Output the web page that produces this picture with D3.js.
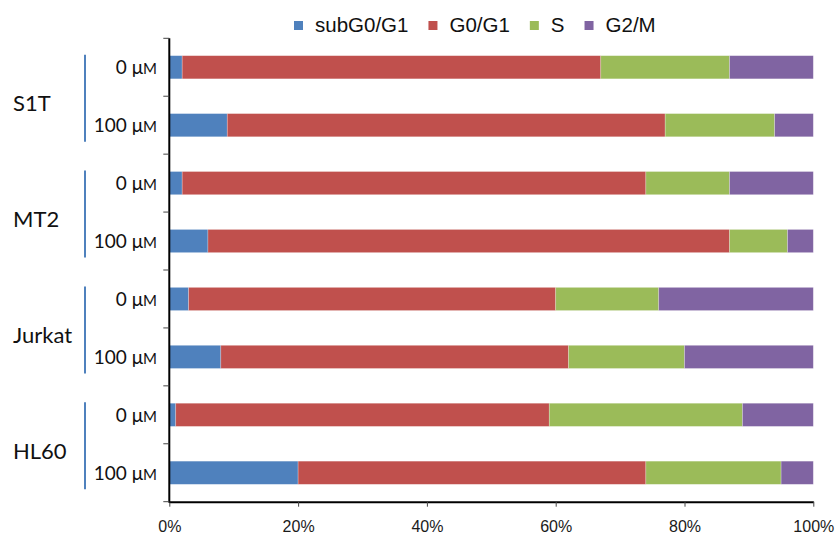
<!DOCTYPE html>
<html>
<head>
<meta charset="utf-8">
<script src="https://cdn.jsdelivr.net/npm/d3@7"></script>
<style>
  body { margin: 0; background: #fff; }
  svg { display: block; }
</style>
</head>
<body>
<script>
// cell lines, doses and the four cell-cycle phases
const groups = ["S1T", "MT2", "Jurkat", "HL60"]
const doses = ["0", "100"]
const phases = ["subG0/G1", "G0/G1", "S", "G2/M"]
const colors = ["#4f81bd", "#c0504d", "#9bbb59", "#8064a2"]

// percent per row, rows go S1T 0, S1T 100, MT2 0, ...
const subG = [2, 9, 2, 6, 3, 8, 1, 20]
const g0g1 = [65, 68, 72, 81, 57, 54, 58, 54]
const sPhase = [20, 17, 13, 9, 16, 18, 30, 21]
const g2m = [13, 6, 13, 4, 24, 20, 11, 5]
const xTicks = [0, 20, 40, 60, 80, 100]

const width = 835
const height = 534
const padL = 169.3, padR = 813.3, padT = 38.3, padB = 501.7

const svg = d3.select("body").append("svg")
    .attr("width", width)
    .attr("height", height)

const rows = []
groups.forEach((g, gi) => {
    doses.forEach((d, di) => {
        const i = gi * 2 + di
        rows.push({ key: g + "|" + d, group: g, dose: d,
            "subG0/G1": subG[i], "G0/G1": g0g1[i], "S": sPhase[i], "G2/M": g2m[i] })
    })
})

const xScale = d3.scaleLinear().domain([0, 100]).range([padL, padR])
const yScale = d3.scaleBand().domain(rows.map(r => r.key))
    .range([padT, padB]).paddingInner(0.6).paddingOuter(0.3)
const color = d3.scaleOrdinal().domain(phases).range(colors)

const stacked = d3.stack().keys(phases)(rows)

svg.append("g").selectAll("g")
    .data(stacked)
    .enter().append("g")
    .attr("fill", d => color(d.key))
    .selectAll("rect")
    .data(d => d)
    .enter().append("rect")
    .attr("x", d => xScale(d[0]))
    .attr("y", d => yScale(d.data.key))
    .attr("width", d => xScale(d[1]) - xScale(d[0]))
    .attr("height", yScale.bandwidth())
    .attr("stroke", "#fff")
    .attr("stroke-opacity", 0.35)
    .attr("stroke-width", 0.7)

// x axis
const xAxis = d3.axisBottom(xScale).tickValues(xTicks)
    .tickFormat(d => d + "%").tickSize(5).tickPadding(14).tickSizeOuter(0)
const gx = svg.append("g")
    .attr("transform", "translate(0," + padB + ")")
    .call(xAxis)
gx.select(".domain").attr("stroke", "#000").attr("stroke-width", 2)
gx.selectAll(".tick line").attr("stroke", "#444")
gx.selectAll("text")
    .style("font-family", "Liberation Sans, Arial, sans-serif")
    .style("font-size", "16px")
    .attr("fill", "#1a1a1a")

// y axis line with ticks on the row boundaries
const step = yScale.step()
const bounds = rows.map(r => yScale(r.key) - step * 0.3).concat([padB])
const gy = svg.append("g").attr("transform", "translate(" + padL + ",0)")
gy.append("line")
    .attr("y1", padT).attr("y2", padB + 1)
    .attr("stroke", "#000").attr("stroke-width", 2)
gy.selectAll(".bt").data(bounds).enter().append("line")
    .attr("class", "bt")
    .attr("x1", -6).attr("x2", 0)
    .attr("y1", d => d).attr("y2", d => d)
    .attr("stroke", "#444")

// dose labels
const doseLab = svg.append("g").selectAll("text")
    .data(rows).enter().append("text")
    .attr("x", 157)
    .attr("y", d => yScale(d.key) + yScale.bandwidth() / 2 + 7)
    .attr("text-anchor", "end")
    .style("font-family", "Lato, sans-serif")
    .style("font-size", "19px")
    .attr("fill", "#111")
doseLab.append("tspan").text(d => d.dose + " μ")
doseLab.append("tspan").style("font-size", "15px").text("M")

// group labels and brackets
groups.forEach((g, gi) => {
    const y0 = yScale(g + "|0")
    const y1 = yScale(g + "|100") + yScale.bandwidth()
    svg.append("line")
        .attr("x1", 85).attr("x2", 85)
        .attr("y1", y0 - 1).attr("y2", y1 + 5)
        .attr("stroke", "#4f81bd").attr("stroke-width", 2)
    svg.append("text")
        .attr("x", 13)
        .attr("y", (y0 + y1) / 2 + 15)
        .style("font-family", "Lato, sans-serif")
        .style("font-size", "22px")
        .attr("fill", "#111")
        .text(g)
})

// legend
const legend = svg.append("g")
let lx = 294
phases.forEach((p, i) => {
    legend.append("rect")
        .attr("x", lx).attr("y", 21)
        .attr("width", 9).attr("height", 9)
        .attr("fill", colors[i])
    const t = legend.append("text")
        .attr("x", lx + 21).attr("y", 31.5)
        .style("font-family", "Liberation Sans, Arial, sans-serif")
        .style("font-size", "20.5px")
        .attr("fill", "#111")
        .text(p)
    lx += 21 + t.node().getComputedTextLength() + 20
})
</script>
</body>
</html>
